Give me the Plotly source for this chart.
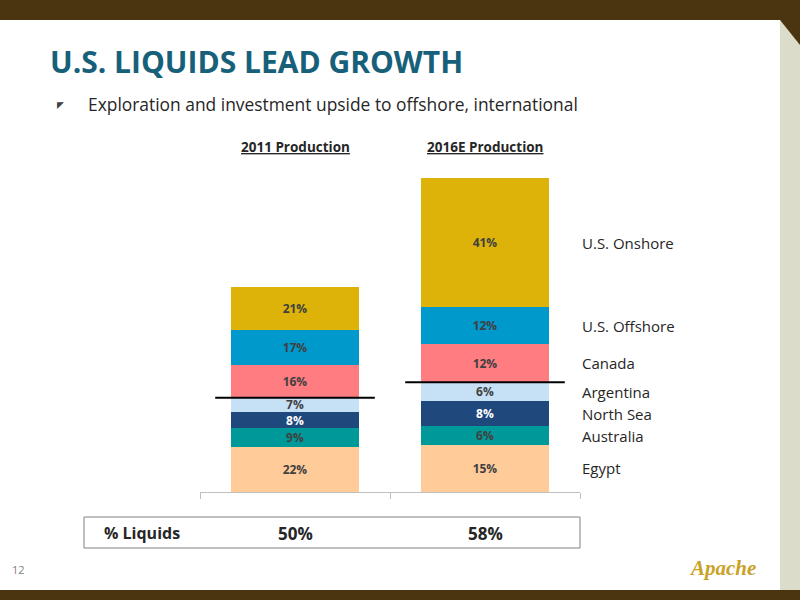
import plotly.graph_objects as go

years = ["2011 Production", "2016E Production"]
totals = [100, 153]
regions = ["Egypt", "Australia", "North Sea", "Argentina", "Canada", "U.S. Offshore", "U.S. Onshore"]
pct_2011 = [22, 9, 8, 7, 16, 17, 21]
pct_2016 = [15, 6, 8, 6, 12, 12, 41]
colors = ["#FFCC99", "#009999", "#1F497D", "#C6E0F5", "#FF7C80", "#0099CC", "#DDB30A"]
liquids = ["50%", "58%"]

fig = go.Figure()
for i, r in enumerate(regions):
    vals = [pct_2011[i] * totals[0] / 100, pct_2016[i] * totals[1] / 100]
    tc = "white" if r == "North Sea" else "#404040"
    fig.add_trace(go.Bar(x=[0, 1], y=vals, marker=dict(color=colors[i], line=dict(width=0)),
                         text=[f"<b>{pct_2011[i]}%</b>", f"<b>{pct_2016[i]}%</b>"], textposition="inside",
                         textangle=0, constraintext="none",
                         insidetextanchor="middle", textfont=dict(color=tc, size=12, family="Open Sans"),
                         width=0.67, name=r, showlegend=False, hoverinfo="skip"))

fig.update_layout(barmode="stack", width=800, height=600, margin=dict(l=0, r=0, t=0, b=0),
                  paper_bgcolor="white", plot_bgcolor="white",
                  font=dict(family="Open Sans", color="#404040"))
fig.update_xaxes(domain=[0.25, 0.725], range=[-0.5, 1.5], showticklabels=False, showgrid=False,
                 showline=True, linecolor="#BFBFBF", ticks="outside", tickcolor="#BFBFBF",
                 tickvals=[-0.5, 0.5, 1.5], ticklen=6, zeroline=False)
fig.update_yaxes(domain=[0.18, 0.727], range=[0, 160], visible=False)

shapes = []
shapes.append(dict(type="rect", xref="paper", yref="paper", x0=0, x1=1, y0=1 - 20/600, y1=1,
                   fillcolor="#4A3510", line_width=0))
shapes.append(dict(type="rect", xref="paper", yref="paper", x0=0, x1=1, y0=0, y1=10/600,
                   fillcolor="#4A3510", line_width=0))
shapes.append(dict(type="rect", xref="paper", yref="paper", x0=780/800, x1=1, y0=10/600, y1=1 - 20/600,
                   fillcolor="#DCDCCB", line_width=0))
shapes.append(dict(type="path", xref="paper", yref="paper",
                   path=f"M {780/800} {1-20/600} L 1 {1-20/600} L 1 {1-45/600} Z",
                   fillcolor="#4A3510", line_width=0))
for j, pcts in enumerate([pct_2011, pct_2016]):
    yb = sum(pcts[:4]) * totals[j] / 100
    shapes.append(dict(type="line", xref="x", yref="y", x0=j - 0.42, x1=j + 0.42, y0=yb, y1=yb,
                       line=dict(color="black", width=2)))
shapes.append(dict(type="rect", xref="paper", yref="paper", x0=84/800, x1=580/800,
                   y0=1 - 548/600, y1=1 - 517/600, line=dict(color="#808080", width=1)))
fig.update_layout(shapes=shapes)

ann = []
ann.append(dict(x=48/800, y=1 - 62/600, xref="paper", yref="paper", xanchor="left", yanchor="middle",
                text="<b>U.S. LIQUIDS LEAD GROWTH</b>", showarrow=False,
                font=dict(size=30, color="#17607A", family="Open Sans")))
ann.append(dict(x=55/800, y=1 - 104/600, xref="paper", yref="paper", xanchor="left", yanchor="middle",
                text="◤", showarrow=False, font=dict(size=9, color="#404040")))
ann.append(dict(x=86/800, y=1 - 104/600, xref="paper", yref="paper", xanchor="left", yanchor="middle",
                text="Exploration and investment upside to offshore, international", showarrow=False,
                font=dict(size=17.4, color="#262626")))
for j, yv in enumerate(years):
    ann.append(dict(x=j, y=1 - 147/600, xref="x", yref="paper", xanchor="center", yanchor="middle",
                    text=f"<b><u>{yv}</u></b>", showarrow=False, font=dict(size=13.5, color="#262626")))
    ann.append(dict(x=j, y=1 - 533/600, xref="x", yref="paper", xanchor="center", yanchor="middle",
                    text=f"<b>{liquids[j]}</b>", showarrow=False, font=dict(size=17, color="#262626")))
cum = 0
for i, r in enumerate(regions):
    v = pct_2016[i] * totals[1] / 100
    ann.append(dict(x=580/800, y=cum + v / 2, xref="paper", yref="y", xanchor="left", yanchor="middle",
                    text=r, showarrow=False, font=dict(size=15, color="#262626")))
    cum += v
ann.append(dict(x=142/800, y=1 - 533/600, xref="paper", yref="paper", xanchor="center", yanchor="middle",
                text="<b>% Liquids</b>", showarrow=False, font=dict(size=16, color="#262626")))
ann.append(dict(x=18/800, y=1 - 569/600, xref="paper", yref="paper", xanchor="center", yanchor="middle",
                text="12", showarrow=False, font=dict(size=11, color="#7F7F7F")))
ann.append(dict(x=722/800, y=1 - 568/600, xref="paper", yref="paper", xanchor="center", yanchor="middle",
                text="<b><i>Apache</i></b>", showarrow=False,
                font=dict(size=21, color="#C9A227", family="Liberation Serif")))
fig.update_layout(annotations=ann)

fig.write_html("out.html", config={"displayModeBar": False},
               post_script="document.body.style.margin='0';")
